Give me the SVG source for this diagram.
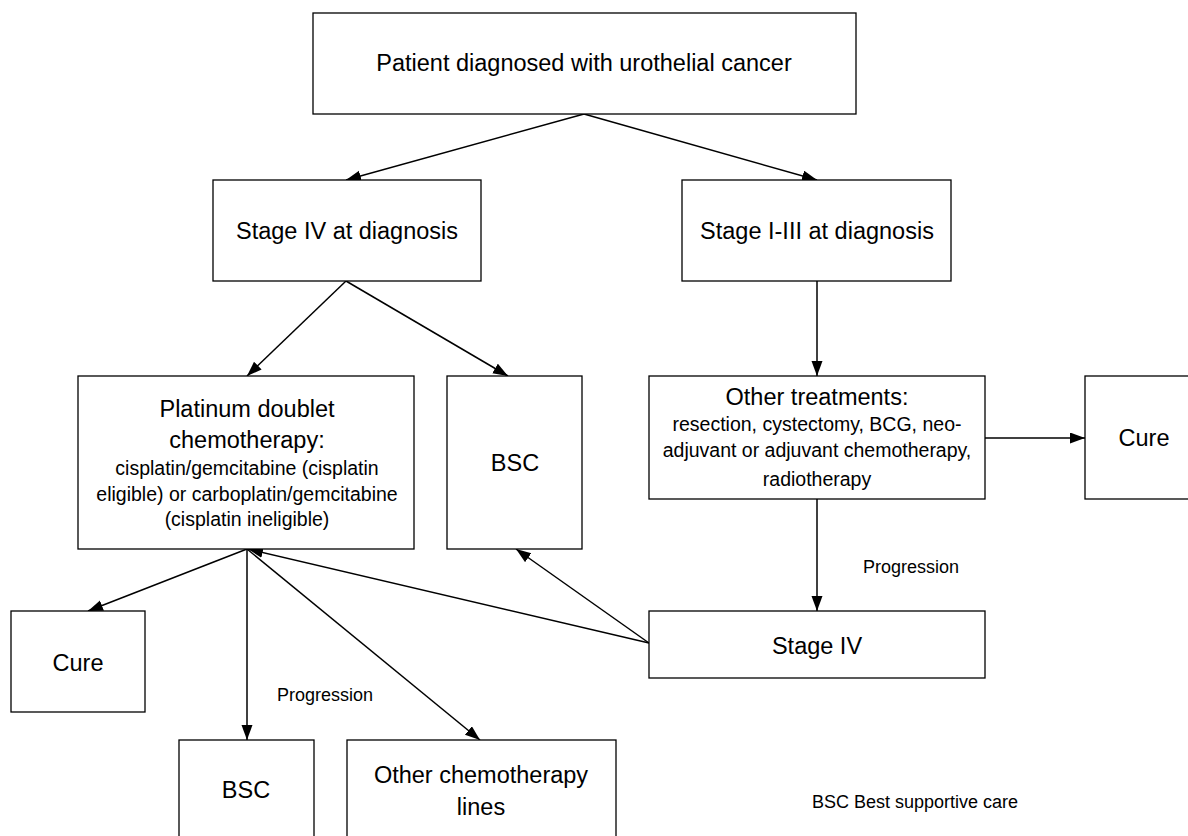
<svg xmlns="http://www.w3.org/2000/svg" width="1188" height="836" viewBox="0 0 1188 836">
<style>
.box{fill:#fff;stroke:#000;stroke-width:1.3}
.t{font-family:"Liberation Sans",Arial,sans-serif;fill:#000;text-anchor:middle}
.l{font-size:23.5px}
.s{font-size:19.5px}
.lab{font-family:"Liberation Sans",Arial,sans-serif;fill:#000;font-size:18px}
.c{stroke:#000;stroke-width:1.5;fill:none;marker-end:url(#ah)}
</style>
<defs>
<marker id="ah" markerUnits="userSpaceOnUse" markerWidth="16" markerHeight="12" refX="15" refY="5.5" orient="auto">
<path d="M0,0 L15,5.5 L0,11 Z" fill="#000"/>
</marker>
</defs>
<rect width="1188" height="836" fill="#fff"/>
<g id="connectors">
<line class="c" x1="584" y1="114" x2="346" y2="180"/>
<line class="c" x1="584" y1="114" x2="817" y2="180"/>
<line class="c" x1="346" y1="281" x2="247" y2="376"/>
<line class="c" x1="346" y1="281" x2="508" y2="376"/>
<line class="c" x1="817" y1="281" x2="817" y2="376"/>
<line class="c" x1="985" y1="438" x2="1085" y2="438"/>
<line class="c" x1="817" y1="499" x2="817" y2="611"/>
<line class="c" x1="247" y1="549" x2="88" y2="611"/>
<line class="c" x1="247" y1="549" x2="247" y2="740"/>
<line class="c" x1="247" y1="549" x2="480" y2="740"/>
<line class="c" x1="649" y1="643" x2="248" y2="549"/>
<line class="c" x1="649" y1="643" x2="516" y2="549"/>
<text class="lab" x="863" y="573">Progression</text>
<text class="lab" x="277" y="701">Progression</text>
</g>
<g id="n-top">
<rect class="box" x="313" y="13" width="543" height="101"/>
<text class="t l" x="584" y="71" font-size="24.5">Patient diagnosed with urothelial cancer</text>
</g>
<g id="n-stage4dx">
<rect class="box" x="213" y="180" width="268" height="101"/>
<text class="t l" x="347" y="239">Stage IV at diagnosis</text>
</g>
<g id="n-stage13dx">
<rect class="box" x="682" y="180" width="269" height="101"/>
<text class="t l" x="817" y="239">Stage I-III at diagnosis</text>
</g>
<g id="n-platinum">
<rect class="box" x="78" y="376" width="336" height="173"/>
<text class="t l" x="247" y="417">Platinum doublet</text>
<text class="t l" x="247" y="448">chemotherapy:</text>
<text class="t s" x="247" y="475">cisplatin/gemcitabine (cisplatin</text>
<text class="t s" x="247" y="501">eligible) or carboplatin/gemcitabine</text>
<text class="t s" x="247" y="526">(cisplatin ineligible)</text>
</g>
<g id="n-bsc1">
<rect class="box" x="447" y="376" width="135" height="173"/>
<text class="t l" x="515" y="471" font-size="21">BSC</text>
</g>
<g id="n-other">
<rect class="box" x="649" y="376" width="336" height="123"/>
<text class="t l" x="817" y="405">Other treatments:</text>
<text class="t s" x="817" y="431" font-size="19">resection, cystectomy, BCG, neo-</text>
<text class="t s" x="817" y="457">adjuvant or adjuvant chemotherapy,</text>
<text class="t s" x="817" y="486">radiotherapy</text>
</g>
<g id="n-cure1">
<rect class="box" x="1085" y="376" width="118" height="123"/>
<text class="t l" x="1144" y="446" font-size="22.5">Cure</text>
</g>
<g id="n-stage4">
<rect class="box" x="649" y="611" width="336" height="67"/>
<text class="t l" x="817" y="654" font-size="22">Stage IV</text>
</g>
<g id="n-cure2">
<rect class="box" x="11" y="611" width="134" height="101"/>
<text class="t l" x="78" y="671" font-size="22.5">Cure</text>
</g>
<g id="n-bsc2">
<rect class="box" x="179" y="740" width="135" height="110"/>
<text class="t l" x="246" y="798" font-size="21">BSC</text>
</g>
<g id="n-otherchemo">
<rect class="box" x="347" y="740" width="269" height="110"/>
<text class="t l" x="481" y="783">Other chemotherapy</text>
<text class="t l" x="481" y="815">lines</text>
</g>
<g id="legend">
<text class="lab" x="812" y="808">BSC Best supportive care</text>
</g>
</svg>
